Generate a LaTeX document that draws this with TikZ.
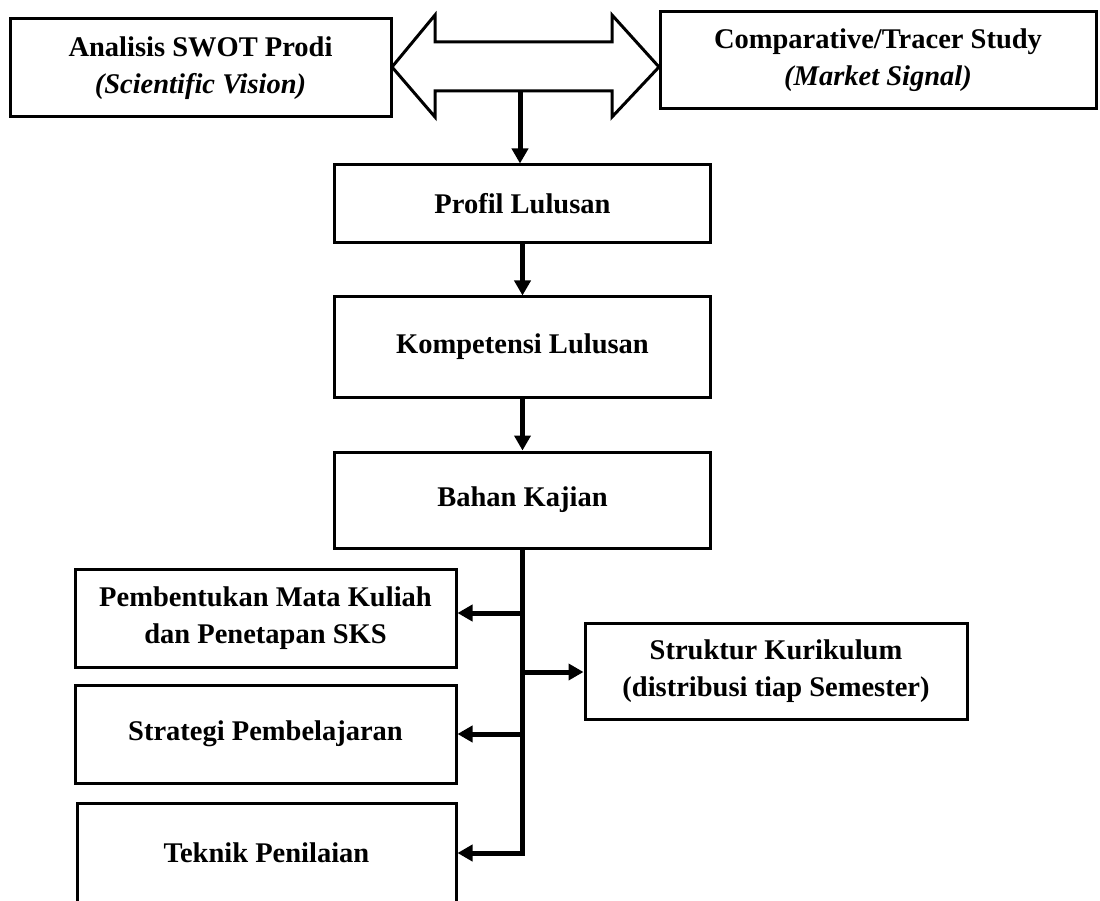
\documentclass[tikz,border=0pt]{standalone}
\usepackage{fontspec}
\setmainfont{Liberation Serif}
\usetikzlibrary{arrows.meta,calc}
\begin{document}
\begin{tikzpicture}[x=1pt,y=-1pt,
  box/.style={draw,line width=3pt,rectangle,inner sep=0pt,align=center,
    font=\fontsize{28.5}{37}\selectfont\bfseries},
  arr/.style={line width=5pt,line join=miter,-{Triangle[width=16pt,length=15pt]}},
]
\useasboundingbox (0,0) rectangle (1100,901);
\clip (0,0) rectangle (1100,901);
\fill[white] (0,0) rectangle (1100,901);

\node[box,minimum width=381pt,minimum height=98pt] (swot) at (200.5,68)
  {Analisis SWOT Prodi\\\textit{(Scientific Vision)}};
\node[box,minimum width=436pt,minimum height=97pt] (comp) at (878,60.5)
  {Comparative/Tracer Study\\\textit{(Market Signal)}};
\node[box,minimum width=376pt,minimum height=78pt] (profil) at (522.5,204) {Profil Lulusan};
\node[box,minimum width=376pt,minimum height=100pt] (komp) at (522.5,347) {Kompetensi Lulusan};
\node[box,minimum width=376pt,minimum height=96pt] (bahan) at (522.5,500) {Bahan Kajian};
\node[box,minimum width=381pt,minimum height=98pt] (pemb) at (265.5,618)
  {Pembentukan Mata Kuliah\\dan Penetapan SKS};
\node[box,minimum width=381pt,minimum height=98pt] (strat) at (265.5,734) {Strategi Pembelajaran};
\node[box,minimum width=379pt,minimum height=100pt] (tek) at (266.5,853) {Teknik Penilaian};
\node[box,minimum width=382pt,minimum height=96pt] (struk) at (776,671)
  {Struktur Kurikulum\\(distribusi tiap Semester)};

% double arrow between the two top boxes
\coordinate (dl) at (392,67);
\coordinate (dr) at (659,67);
\draw[line width=3pt,line join=miter,fill=white]
  (dl) -- (435,15) -- (435,42) -- (612,42) -- (612,15) -- (dr)
  -- (612,117) -- (612,91) -- (435,91) -- (435,117) -- cycle;

\coordinate (ds) at (520,91);
\draw[arr] (ds) -- (ds |- profil.north);
\draw[arr] (profil.south) -- (komp.north);
\draw[arr] (komp.south) -- (bahan.north);

\coordinate (b1) at (522.5,613);
\coordinate (b2) at (522.5,672);
\coordinate (b3) at (522.5,734);
\coordinate (te) at (522.5,853);
\draw[arr] (bahan.south) -- (te) -- (te -| tek.east);
\draw[arr] (b1) -- (b1 -| pemb.east);
\draw[arr] (b2) -- (b2 -| struk.west);
\draw[arr] (b3) -- (b3 -| strat.east);
\end{tikzpicture}
\end{document}
